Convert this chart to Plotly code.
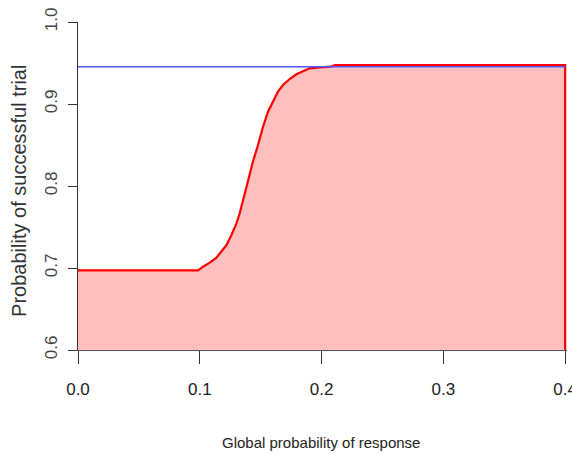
import plotly.graph_objects as go

# Global probability of response (x) and probability of successful trial (y)
x_resp = [0.0, 0.0986, 0.1027, 0.1082, 0.1137, 0.1178, 0.1219, 0.1260, 0.1301,
          0.1328, 0.1355, 0.1383, 0.1410, 0.1437, 0.1478, 0.1519, 0.1560, 0.1601,
          0.1642, 0.1683, 0.1738, 0.1793, 0.1847, 0.1902, 0.1984, 0.2080, 0.2107,
          0.4000]
p_success = [0.697, 0.697, 0.7016, 0.7065, 0.7126, 0.7199, 0.7280, 0.7402, 0.7545,
             0.7667, 0.7829, 0.7991, 0.8155, 0.8300, 0.8500, 0.8723, 0.8906, 0.9028,
             0.9150, 0.9232, 0.9305, 0.9362, 0.9402, 0.9435, 0.9447, 0.9455, 0.9473,
             0.9473]
# reference level (blue line)
x_ref = [0.0, 0.4]
p_ref = [0.9455, 0.9455]

x_ticks = [0.0, 0.1, 0.2, 0.3, 0.4]
x_ticklabels = ["0.0", "0.1", "0.2", "0.3", "0.4"]
y_ticks = [0.6, 0.7, 0.8, 0.9, 1.0]
y_ticklabels = ["0.6", "0.7", "0.8", "0.9", "1.0"]

x_title = "Global probability of response"
y_title = "Probability of successful trial"

sans = "Liberation Sans, Arial, sans-serif"

fig = go.Figure()
# pink filled area below the curve
fig.add_trace(go.Scatter(
    x=x_resp, y=p_success, mode="lines", fill="tozeroy",
    fillcolor="rgb(255,191,191)", line=dict(width=0, color="rgba(0,0,0,0)"),
    hoverinfo="skip", showlegend=False))
# red outline (curve plus closing vertical at the right end)
fig.add_trace(go.Scatter(
    x=x_resp + [x_resp[-1]], y=p_success + [0.6], mode="lines",
    line=dict(color="#FF0000", width=2.2), showlegend=False))
# blue reference line
fig.add_trace(go.Scatter(
    x=x_ref, y=p_ref, mode="lines",
    line=dict(color="#5555FF", width=1.6), showlegend=False))

fig.update_layout(
    width=572, height=454,
    margin=dict(l=78, r=5, t=22, b=104),
    paper_bgcolor="white", plot_bgcolor="white",
    showlegend=False,
    xaxis=dict(
        range=[0, 0.4015], tickvals=x_ticks, ticktext=x_ticklabels,
        automargin=False, ticklabeloverflow="allow",
        showgrid=False, zeroline=False, showline=True, linecolor="#555",
        linewidth=1, ticks="outside", ticklen=13, tickcolor="#333", tickwidth=1,
        ticklabelstandoff=11,
        tickfont=dict(family=sans, size=17, color="#222"),
    ),
    yaxis=dict(
        range=[0.6, 1.0], tickvals=y_ticks, ticktext=y_ticklabels,
        automargin=False, ticklabeloverflow="allow",
        showgrid=False, zeroline=False, showline=True, linecolor="#333",
        linewidth=1, ticks="outside", ticklen=9, tickcolor="#333", tickwidth=1,
        tickangle=-90, ticklabelstandoff=4,
        tickfont=dict(family=sans, size=17, color="#444"),
    ),
    annotations=[
        dict(text=x_title, xref="paper", yref="paper", x=0.497, y=-0.2805,
             xanchor="center", yanchor="middle", showarrow=False,
             font=dict(family=sans, size=15, color="#222")),
        dict(text=y_title, xref="paper", yref="paper", x=-0.1207, y=0.485,
             xanchor="center", yanchor="middle", showarrow=False, textangle=-90,
             font=dict(family=sans, size=20, color="#333")),
    ],
)

fig.write_html(
    "out.html",
    config={"displayModeBar": False},
    post_script="document.body.style.margin='0';document.body.style.overflow='hidden';",
)
